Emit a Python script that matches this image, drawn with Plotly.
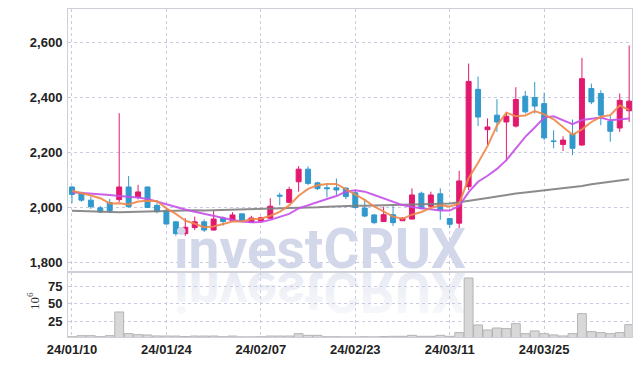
import base64
import plotly.graph_objects as go

dates = ["24/01/10","24/01/11","24/01/12","24/01/15","24/01/16","24/01/17","24/01/18","24/01/19",
         "24/01/22","24/01/23","24/01/24","24/01/25","24/01/26","24/01/29","24/01/30","24/01/31",
         "24/02/01","24/02/02","24/02/05","24/02/06","24/02/07","24/02/08","24/02/13","24/02/14",
         "24/02/15","24/02/16","24/02/19","24/02/20","24/02/21","24/02/22","24/02/23","24/02/26",
         "24/02/27","24/02/28","24/02/29","24/03/04","24/03/05","24/03/06","24/03/07","24/03/08",
         "24/03/11","24/03/12","24/03/13","24/03/14","24/03/15","24/03/18","24/03/19","24/03/20",
         "24/03/21","24/03/22","24/03/25","24/03/26","24/03/27","24/03/28","24/03/29","24/04/01",
         "24/04/02","24/04/03","24/04/04","24/04/05"]

opens = [2074,2052,2026,1998,2017,2028,2074,2037,2074,2007,1989,1947,1904,1926,1947,1917,
         1961,1951,1976,1945,1950,1960,2044,2018,2093,2139,2089,2071,2071,2070,2053,1997,
         1972,1948,1973,1951,1957,2051,2004,2049,1959,1942,2075,2430,2283,2336,2311,2296,
         2405,2400,2378,2242,2229,2267,2227,2433,2415,2314,2289,2352]
highs = [2076,2057,2039,2005,2030,2343,2114,2082,2075,2015,1993,1950,1960,1966,1956,1988,
         1966,1982,1977,1969,1966,2033,2053,2075,2150,2149,2093,2087,2105,2072,2063,2031,
         1976,2002,2007,1964,2069,2057,2057,2069,1960,2133,2524,2477,2324,2394,2348,2438,
         2424,2457,2418,2281,2259,2320,2545,2451,2427,2336,2415,2590]
lows = [2015,2020,1994,1979,1979,2018,1999,2029,1998,1978,1937,1896,1896,1917,1910,1915,
        1933,1948,1947,1944,1948,1959,2007,2015,2057,2081,2063,2036,2045,2030,1996,1964,
        1938,1948,1932,1950,1956,1993,1997,1954,1924,1920,2063,2296,2227,2275,2168,2291,
        2342,2342,2245,2215,2205,2190,2224,2376,2299,2239,2275,2311]
closes = [2047,2026,2002,1983,1988,2074,2002,2056,1999,1984,1939,1904,1927,1947,1917,1957,
          1948,1972,1948,1961,1962,2004,2041,2065,2139,2087,2068,2068,2063,2039,1999,1968,
          1944,1973,1944,1960,2045,1995,2045,1990,1938,2096,2459,2329,2293,2311,2332,2393,
          2348,2369,2253,2240,2245,2215,2469,2384,2336,2277,2390,2387]

ma5 = [2060,2052,2043,2033,2014,2015,2010,2021,2024,2023,1996,1976,1951,1940,1927,1930,
       1939,1948,1948,1957,1958,1969,1983,2007,2042,2067,2080,2085,2085,2065,2047,2027,
       2003,1985,1966,1958,1973,1983,1998,2007,2003,2013,2106,2162,2223,2298,2345,2332,
       2335,2351,2339,2321,2291,2264,2284,2311,2330,2336,2371,2355]
ma20 = [2055,2053,2050,2048,2045,2041,2039,2036,2030,2020,2010,2000,1992,1984,1976,1968,
        1960,1954,1948,1945,1946,1954,1965,1976,1996,2008,2019,2030,2041,2057,2062,2057,
        2045,2033,2020,2008,2001,1996,1992,1988,1988,2005,2055,2093,2115,2140,2172,2215,
        2257,2291,2327,2332,2317,2303,2318,2322,2327,2317,2320,2324]
ma60 = [1987,1986,1985,1983,1982,1982,1983,1984,1985,1986,1988,1989,1989,1989,1988,1989,
        1990,1990,1990,1991,1992,1993,1994,1995,1996,1998,2000,2002,2004,2005,2006,2006,
        2007,2007,2008,2008,2009,2010,2011,2012,2014,2018,2024,2029,2034,2039,2045,2050,
        2054,2058,2061,2064,2068,2072,2078,2084,2089,2094,2098,2102]

volumes = [3,4.5,4.5,3,4.5,38.4,7.4,6,5.5,4.1,4,4,3.2,4,4,4,
           3,4,2.8,2.8,3,4,4,4,7.4,5,5,3,3,2.8,2.8,3,
           2.8,3.2,3.6,3.6,5,3.6,3.6,5,3.6,8.9,87,19.8,12.7,15.5,14.6,21.7,
           7.4,11.3,7.4,5.6,4.1,7.4,36,10.3,8.9,7.4,8.9,20.3]

price_ticks = [1800, 2000, 2200, 2400, 2600]
vol_ticks = [25, 50, 75]
date_ticks = [dates[i] for i in range(0, 60, 10)]

UP = "#e2196e"
DOWN = "#3199cc"
GRID = "#c9cbe0"
TICKFONT = dict(family="Liberation Sans, Arial, sans-serif", size=13, color="#222222", weight="bold")

fig = go.Figure()
fig.add_trace(go.Candlestick(
    x=dates, open=opens, high=highs, low=lows, close=closes,
    increasing=dict(line=dict(color=UP, width=1), fillcolor=UP),
    decreasing=dict(line=dict(color=DOWN, width=1), fillcolor=DOWN),
    whiskerwidth=0, xaxis="x", yaxis="y", showlegend=False))
fig.add_trace(go.Scatter(x=dates, y=ma60, mode="lines", line=dict(color="#808080", width=2),
                         opacity=0.9, xaxis="x", yaxis="y", showlegend=False))
fig.add_trace(go.Scatter(x=dates, y=ma20, mode="lines", line=dict(color="#c650e8", width=2),
                         opacity=0.9, xaxis="x", yaxis="y", showlegend=False))
fig.add_trace(go.Scatter(x=dates, y=ma5, mode="lines", line=dict(color="#f0884a", width=2),
                         opacity=0.9, xaxis="x", yaxis="y", showlegend=False))
fig.add_trace(go.Bar(x=dates, y=volumes, marker=dict(color="#d8d8d8", line=dict(color="#b4b4b4", width=1)),
                     xaxis="x2", yaxis="y2", showlegend=False))

xr = [-0.42, 59.3]
fig.update_layout(
    width=642, height=366,
    margin=dict(l=68, r=10, t=9, b=29, autoexpand=False),
    paper_bgcolor="white", plot_bgcolor="white",
    bargap=0.06, boxgap=0.25,
    xaxis=dict(type="category", range=xr, anchor="y", showticklabels=False, automargin=False,
               tickvals=date_ticks, showgrid=True, gridcolor=GRID, griddash="dot", gridwidth=1,
               showline=True, linecolor="#cfcfd8", mirror=True, rangeslider=dict(visible=False),
               ticks="", zeroline=False),
    yaxis=dict(domain=[0.199, 1], range=[1765, 2723], tickvals=price_ticks, tickformat=",",
               automargin=False,
               showgrid=True, gridcolor=GRID, griddash="dot", gridwidth=1,
               showline=True, linecolor="#cfcfd8", mirror=True, ticks="outside", ticklen=2,
               tickcolor="rgba(0,0,0,0)", tickfont=TICKFONT, zeroline=False),
    xaxis2=dict(type="category", range=xr, anchor="y2", matches="x", tickvals=date_ticks,
                automargin=False,
                showgrid=True, gridcolor=GRID, griddash="dot", gridwidth=1,
                showline=True, linecolor="#cfcfd8", mirror=True, ticks="", tickfont=TICKFONT),
    yaxis2=dict(domain=[0, 0.199], range=[2.6, 96], tickvals=vol_ticks, automargin=False,
                showgrid=True, gridcolor=GRID, griddash="dot", gridwidth=1,
                showline=True, linecolor="#cfcfd8", mirror=True, ticks="outside", ticklen=2,
                tickcolor="rgba(0,0,0,0)", tickfont=TICKFONT, zeroline=False),
)

fig.add_annotation(text="<b>investCRUX</b>", xref="paper", yref="paper", x=0.4468, y=0.165,
                   xanchor="center", yanchor="bottom", showarrow=False,
                   font=dict(family="Roboto, Liberation Sans, sans-serif", size=55, color="#d2d8ea"))
fig.add_annotation(text="10<sup>6</sup>", xref="paper", yref="paper", x=-0.062, y=0.11,
                   xanchor="center", yanchor="middle", showarrow=False, textangle=-90,
                   font=dict(family="Liberation Serif, DejaVu Serif, serif", size=13, color="#333333"))

svg = ('<svg xmlns="http://www.w3.org/2000/svg" width="300" height="50" viewBox="0 0 300 50">'
       '<defs><linearGradient id="g" x1="0" y1="0" x2="0" y2="1">'
       '<stop offset="0" stop-color="#eceef5" stop-opacity="0.3"/>'
       '<stop offset="1" stop-color="#e1e5f0" stop-opacity="1"/></linearGradient></defs>'
       '<g transform="scale(1,-1)"><text x="150" y="-1" text-anchor="middle" '
       'font-family="Roboto, Liberation Sans, sans-serif" font-weight="bold" font-size="55" '
       'fill="url(#g)">investCRUX</text></g></svg>')
src = "data:image/svg+xml;base64," + base64.b64encode(svg.encode()).decode()
fig.add_layout_image(dict(source=src, xref="paper", yref="paper", x=(170 - 68) / 564,
                          y=(337.3 - 272) / 328.3, sizex=300 / 564, sizey=50 / 328.3,
                          xanchor="left", yanchor="top", sizing="stretch", layer="below"))

fig.write_html("out.html", config={"displayModeBar": False},
               post_script="document.body.style.margin='0';document.body.style.overflow='hidden';")
